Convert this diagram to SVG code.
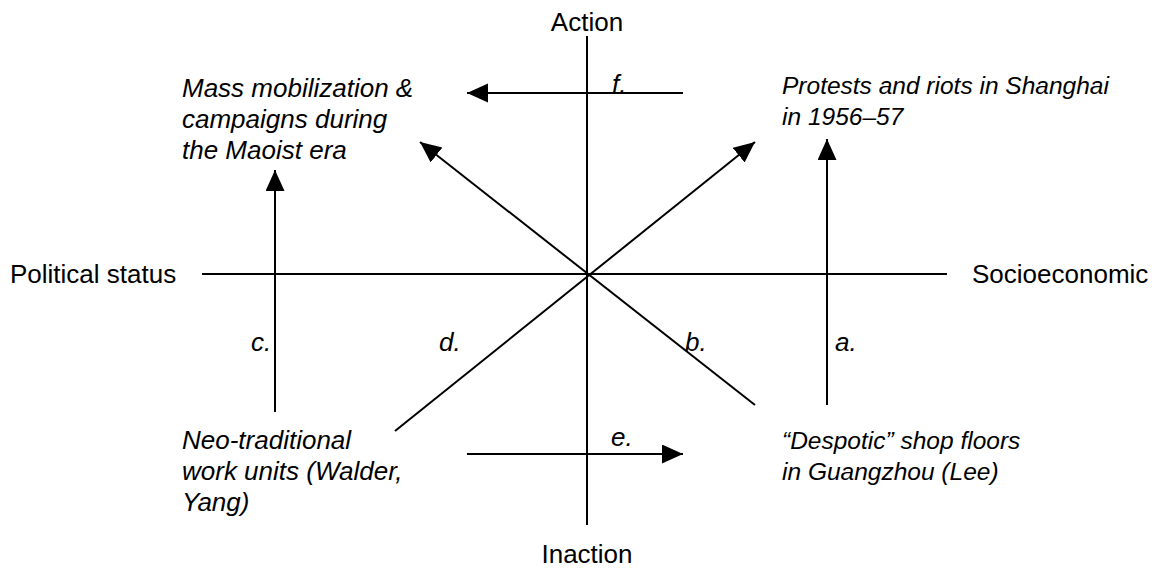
<svg xmlns="http://www.w3.org/2000/svg" width="1154" height="579" viewBox="0 0 1154 579">
  <style>
    .ax { font-family: "Liberation Sans", Arial, sans-serif; font-size: 26px; fill: #000; }
    .it { font-family: "Liberation Sans", Arial, sans-serif; font-size: 26px; font-style: italic; fill: #000; }
    .itr { font-family: "Liberation Sans", Arial, sans-serif; font-size: 24.5px; font-style: italic; fill: #000; }
    .ln { stroke: #000; stroke-width: 2; fill: none; }
    .ar { stroke: #000; stroke-width: 2; fill: none; marker-end: url(#ah); }
  </style>
  <defs>
    <marker id="ah" markerUnits="userSpaceOnUse" markerWidth="22" markerHeight="20" refX="21" refY="9.5" orient="auto">
      <path d="M0,0 L21,9.5 L0,19 Z" fill="#000"/>
    </marker>
  </defs>
  <rect width="1154" height="579" fill="#fff"/>
  <g id="connectors">
    <line class="ln" x1="587" y1="36" x2="587" y2="525"/>
    <line class="ln" x1="202" y1="274" x2="947" y2="274"/>
    <line class="ar" x1="683" y1="93" x2="467" y2="93"/>
    <line class="ar" x1="467" y1="454" x2="683" y2="454"/>
    <line class="ar" x1="275" y1="412" x2="275" y2="170"/>
    <line class="ar" x1="827" y1="405" x2="827" y2="139"/>
    <line class="ar" x1="755" y1="405" x2="420" y2="142"/>
    <line class="ar" x1="395" y1="431" x2="755" y2="142"/>
    <g id="edge-labels">
      <text class="it" x="612" y="93">f.</text>
      <text class="it" x="611" y="446">e.</text>
      <text class="it" x="251" y="351">c.</text>
      <text class="it" x="439" y="351">d.</text>
      <text class="it" x="685" y="351">b.</text>
      <text class="it" x="835" y="351">a.</text>
    </g>
  </g>
  <g id="axis-action"><text class="ax" x="587" y="31" text-anchor="middle">Action</text></g>
  <g id="axis-inaction"><text class="ax" x="587" y="563" text-anchor="middle">Inaction</text></g>
  <g id="axis-political"><text class="ax" x="10" y="283">Political status</text></g>
  <g id="axis-socioeconomic"><text class="ax" x="972" y="283">Socioeconomic</text></g>
  <g id="node-mass">
    <text class="it" x="182" y="97">Mass mobilization &amp;</text>
    <text class="it" x="182" y="128">campaigns during</text>
    <text class="it" x="182" y="159">the Maoist era</text>
  </g>
  <g id="node-protests">
    <text class="itr" x="782" y="94">Protests and riots in Shanghai</text>
    <text class="itr" x="782" y="125">in 1956–57</text>
  </g>
  <g id="node-neo">
    <text class="it" x="182" y="449">Neo-traditional</text>
    <text class="it" x="182" y="480">work units (Walder,</text>
    <text class="it" x="182" y="511">Yang)</text>
  </g>
  <g id="node-despotic">
    <text class="itr" x="782" y="449">“Despotic” shop floors</text>
    <text class="itr" x="782" y="480">in Guangzhou (Lee)</text>
  </g>
</svg>
